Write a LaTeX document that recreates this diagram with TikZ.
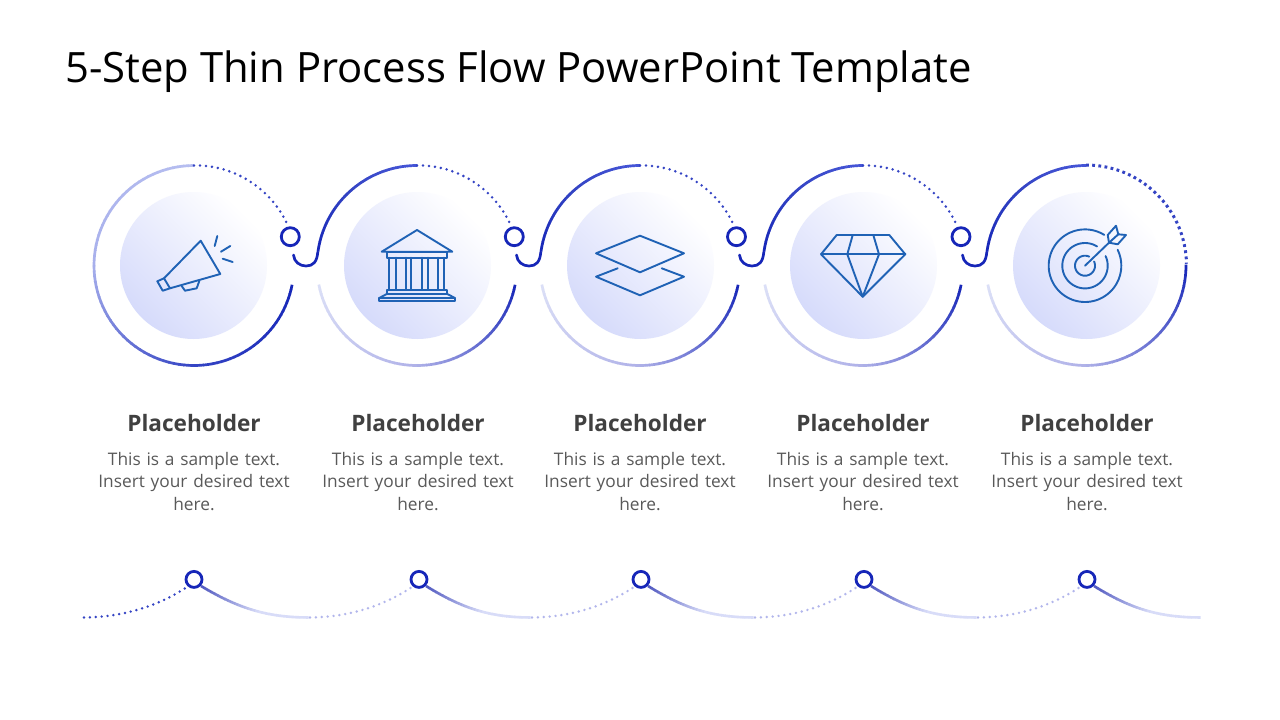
\documentclass[tikz,border=0pt]{standalone}
\usepackage{fontspec}
\setmainfont{Open Sans}
\definecolor{icon}{HTML}{1F62B5}
\definecolor{deep}{HTML}{1626B8}
\definecolor{midb}{HTML}{3444C4}
\definecolor{upb}{HTML}{4656D8}
\definecolor{paleA}{HTML}{B6BEF0}
\definecolor{paleB}{HTML}{A8B0EC}
\definecolor{paleC}{HTML}{DCE0F7}
\definecolor{paleD}{HTML}{AFB1E8}
\definecolor{waveA}{HTML}{5058C0}
\definecolor{waveB}{HTML}{D8DCF8}
\definecolor{dotpale}{HTML}{B2B6EC}
\definecolor{discA}{HTML}{D6DBFB}
\definecolor{titletxt}{HTML}{000000}
\definecolor{headtxt}{HTML}{404040}
\definecolor{bodytxt}{HTML}{595959}
\newcommand{\gradarc}[7]{%
  \foreach \gi in {0,...,29}{%
    \pgfmathsetmacro\gaa{#4+(#5-#4)*\gi/30}%
    \pgfmathsetmacro\gab{#4+(#5-#4)*(\gi+1.15)/30}%
    \pgfmathsetmacro\gp{(\gi+.5)/30*100}%
    \draw[line width=2.7pt,color=#7!\gp!#6] ({#1+#3*cos(\gaa)},{#2-#3*sin(\gaa)}) -- ({#1+#3*cos(\gab)},{#2-#3*sin(\gab)});
  }}
\newcommand{\gradbez}[8]{%
  \foreach \gi in {0,...,29}{%
    \pgfmathsetmacro\gt{\gi/30}%
    \pgfmathsetmacro\gu{(\gi+1.15)/30}%
    \pgfmathsetmacro\gp{min(100,(\gi+.5)/30*175)}%
    \pgfmathsetmacro\xa{(1-\gt)^3*#1+3*(1-\gt)^2*\gt*#3+3*(1-\gt)*\gt*\gt*#5+\gt^3*#7}%
    \pgfmathsetmacro\ya{(1-\gt)^3*#2+3*(1-\gt)^2*\gt*#4+3*(1-\gt)*\gt*\gt*#6+\gt^3*#8}%
    \pgfmathsetmacro\xb{(1-\gu)^3*#1+3*(1-\gu)^2*\gu*#3+3*(1-\gu)*\gu*\gu*#5+\gu^3*#7}%
    \pgfmathsetmacro\yb{(1-\gu)^3*#2+3*(1-\gu)^2*\gu*#4+3*(1-\gu)*\gu*\gu*#6+\gu^3*#8}%
    \draw[line width=2.6pt,color=waveB!\gp!waveA] (\xa,\ya) -- (\xb,\yb);
  }}
\newcommand{\stepdisc}[1]{%
  \shade[bottom color=discA,top color=white,shading angle=-45] (#1,265.5) circle (73.5);}
\newcommand{\dotarc}[1]{%
  \draw[dotarcstyle] plot[domain=90:24,samples=50] ({#1+(100+2*(90-\x)/66)*cos(\x)},{265.5-(100+2*(90-\x)/66)*sin(\x)});}
\newcommand{\hookup}[1]{% #1 = centre x of the circle the hook leads into
  \draw[hookstyle] ({#1-123.5},255) .. controls ({#1-123},262) and ({#1-117},266) .. ({#1-111},266)
     .. controls ({#1-104},266) and ({#1-100},262) .. ({#1-99.2},252);
  \gradarc{#1}{265.5}{100}{172}{131}{deep}{midb}
  \gradarc{#1}{265.5}{100}{131}{90}{midb}{upb}}
\newcommand{\lowarc}[2]{% centre x, end angle
  \gradarc{#1}{265.5}{100}{191}{270}{paleC}{paleD}
  \gradarc{#1}{265.5}{100}{270}{#2}{paleD}{deep}}
\tikzset{
  ringstyle/.style={circle,draw=deep,line width=2.8pt,minimum size=18pt,inner sep=0pt},
  dotarcstyle/.style={midb,line width=2.8pt,line cap=round,dash pattern=on 0pt off 6pt},
  hookstyle/.style={deep,line width=2.7pt,line cap=round},
  iconline/.style={icon,line width=1.9pt,line join=round,line cap=round},
  headstyle/.style={font=\fontsize{22.6}{26}\selectfont\bfseries,text=headtxt,inner sep=0pt},
  bodystyle/.style={font=\fontsize{17.3}{22.7}\selectfont,text=bodytxt,align=center,inner sep=0pt,text width=210pt},
  wavedot/.style={line width=2.7pt,line cap=round,dash pattern=on 0pt off 5.9pt},
}
\begin{document}
\begin{tikzpicture}[x=1pt,y=-1pt]
\useasboundingbox (0,0) rectangle (1280,720);
\fill[white] (0,0) rectangle (1280,720);
\node[anchor=base west,inner sep=0pt,text=titletxt,font=\fontsize{41.8}{48}\selectfont] (title) at (65,82) {5-Step Thin Process Flow PowerPoint Template};

% discs
\stepdisc{193.5}\stepdisc{417.5}\stepdisc{640.5}\stepdisc{863.5}\stepdisc{1086.5}

% circle 1
\gradarc{194}{265.5}{100}{90}{180}{paleA}{paleB}
\gradarc{194}{265.5}{100}{180}{270}{paleB}{midb}
\gradarc{194}{265.5}{100}{270}{348.5}{midb}{deep}
\dotarc{194}
% circles 2-4
\foreach \cx in {417,640,863}{
  \hookup{\cx}
  \lowarc{\cx}{348.5}
  \dotarc{\cx}
}
% circle 5
\hookup{1086}
\lowarc{1086}{360}
\draw[midb,line width=3pt,dash pattern=on 2.8pt off 3.4pt] plot[domain=90:1,samples=60] ({1086+100.5*cos(\x)},{265.5-100.5*sin(\x)});

% rings
\node[ringstyle] (ringa) at (290.3,236.7) {};
\node[ringstyle] (ringb) at (514.3,236.7) {};
\node[ringstyle] (ringc) at (736.5,236.7) {};
\node[ringstyle] (ringd) at (961,236.7) {};

% megaphone
\draw[iconline] (164,278.3) -- (200.7,240.7) -- (220.3,274) -- (170,288.3) -- cycle;
\draw[iconline] (164,278.3) -- (157.3,281.3) -- (162.7,290.7) -- (170,288.3);
\draw[iconline] (181.7,286) -- (185,290.7) -- (196.7,288.3) -- (199.3,281);
\draw[iconline] (217.3,236) -- (214.7,246);
\draw[iconline] (230.3,246) -- (221,251.7);
\draw[iconline] (232.7,262) -- (222.7,258.7);

% temple
\draw[iconline] (417,230) -- (381.7,251.7) -- (452.3,251.7) -- cycle;
\draw[iconline] (386.7,252) rectangle (447.3,257.7);
\foreach \xl/\xr in {389.3/396,405.7/411,421.7/427.7,438.3/444.3}{
  \draw[iconline] (\xl,257.7) -- (\xl,290);
  \draw[iconline] (\xr,257.7) -- (\xr,290);
}
\draw[iconline] (386.7,290) rectangle (447.3,294);
\draw[iconline] (386.7,294) -- (379.3,298);
\draw[iconline] (447.3,294) -- (455,298);
\draw[iconline] (379.3,297.7) rectangle (455,300.7);

% layers
\draw[iconline] (640,235.7) -- (684,253.3) -- (640,272.3) -- (596,253.3) -- cycle;
\draw[iconline] (617.7,268.3) -- (596,276.7) -- (640,295.3) -- (684,276.7) -- (661.7,268.3);

% diamond
\draw[iconline] (836.7,235) -- (889.3,235) -- (905.3,254.3) -- (862.7,296.7) -- (821,254.3) -- cycle;
\draw[iconline] (821,254.3) -- (905.3,254.3);
\draw[iconline] (852.7,235) -- (847.3,254.3) -- (862.7,296.7) -- (879,254.3) -- (873.3,235);

% target
\draw[iconline] plot[domain=58:386,samples=90] ({1085+36.3*cos(\x)},{265.7-36.3*sin(\x)});
\draw[iconline] plot[domain=58:385,samples=70] ({1085+22.7*cos(\x)},{265.7-22.7*sin(\x)});
\draw[iconline] plot[domain=65:385,samples=50] ({1085+10*cos(\x)},{265.7-10*sin(\x)});
\draw[iconline] (1085,265.7) -- (1109,242.7);
\draw[iconline] (1109,242.7) -- (1107.7,235) -- (1116,225.7) -- (1118.3,234.3) -- (1126,235) -- (1117.7,244.3) -- cycle;
\draw[iconline] (1109,242.7) -- (1118.3,234.3);

% labels
\node[headstyle] (heada) at (194,423) {Placeholder};
\node[headstyle] (headb) at (418,423) {Placeholder};
\node[headstyle] (headc) at (640,423) {Placeholder};
\node[headstyle] (headd) at (863,423) {Placeholder};
\node[headstyle] (heade) at (1087,423) {Placeholder};
\node[bodystyle] (bodya) at (194,481.5) {This is a sample text.\\Insert your desired text\\here.};
\node[bodystyle] (bodyb) at (418,481.5) {This is a sample text.\\Insert your desired text\\here.};
\node[bodystyle] (bodyc) at (640,481.5) {This is a sample text.\\Insert your desired text\\here.};
\node[bodystyle] (bodyd) at (863,481.5) {This is a sample text.\\Insert your desired text\\here.};
\node[bodystyle] (bodye) at (1087,481.5) {This is a sample text.\\Insert your desired text\\here.};

% wave
\draw[wavedot,color=midb] (84,617.5) .. controls (125,617) and (160,605) .. (187,587);
\gradbez{201}{586}{236}{607}{265}{617.5}{308}{617.5}
\foreach \sx/\ex in {310/419,532/641,755/864,978/1087}{
  \draw[wavedot,color=dotpale] (\sx,617.5) .. controls ({\sx+41},617) and ({\ex-34},605) .. ({\ex-7},587);
}
\gradbez{426}{586}{460}{607}{488}{617.5}{530}{617.5}
\gradbez{648}{586}{682}{607}{710}{617.5}{753}{617.5}
\gradbez{871}{586}{905}{607}{933}{617.5}{976}{617.5}
\gradbez{1094}{586}{1128}{607}{1156}{617.5}{1200}{617.5}
\node[ringstyle,minimum size=16pt] (dota) at (194,579.4) {};
\node[ringstyle,minimum size=16pt] (dotb) at (419,579.4) {};
\node[ringstyle,minimum size=16pt] (dotc) at (641,579.4) {};
\node[ringstyle,minimum size=16pt] (dotd) at (864,579.4) {};
\node[ringstyle,minimum size=16pt] (dote) at (1087,579.4) {};
\end{tikzpicture}
\end{document}
